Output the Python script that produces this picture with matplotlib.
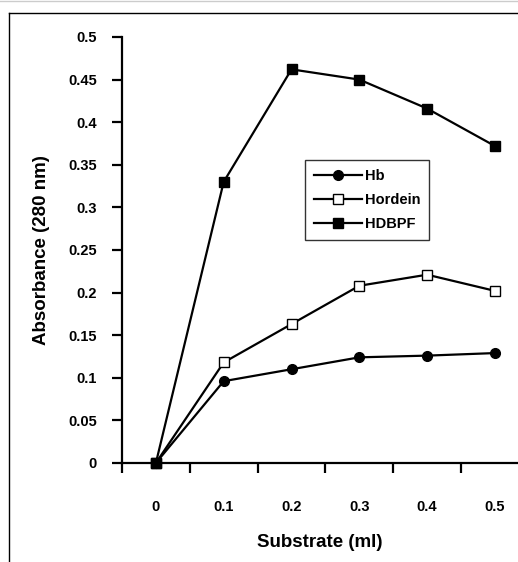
import numpy as np
import matplotlib
matplotlib.use('Agg')
import matplotlib.pyplot as plt
from matplotlib.lines import Line2D

plt.rcParams['font.family'] = ['Liberation Sans', 'DejaVu Sans']
plt.rcParams['font.weight'] = 'bold'

substrate = ['0', '0.1', '0.2', '0.3', '0.4', '0.5']
hb = [0.0, 0.096, 0.110, 0.124, 0.126, 0.129]
hordein = [0.0, 0.118, 0.163, 0.208, 0.221, 0.202]
hdbpf = [0.0, 0.330, 0.462, 0.450, 0.416, 0.372]
yticks = [0, 0.05, 0.1, 0.15, 0.2, 0.25, 0.3, 0.35, 0.4, 0.45, 0.5]

fig = plt.figure(figsize=(5.18, 5.62), dpi=100)
ax = fig.add_axes([0.2355, 0.1762, 0.7645, 0.758])

x = np.arange(len(substrate))
ax.plot(x, hb, color='black', lw=1.6, marker='o', ms=7, mfc='black', mec='black', label='Hb', clip_on=False, zorder=3)
ax.plot(x, hordein, color='black', lw=1.6, marker='s', ms=7, mfc='white', mec='black', mew=1, label='Hordein', clip_on=False, zorder=3)
ax.plot(x, hdbpf, color='black', lw=1.6, marker='s', ms=7, mfc='black', mec='black', label='HDBPF', clip_on=False, zorder=3)

ax.set_yticks(yticks)
ax.set_yticklabels(['0' if v == 0 else ('%g' % v) for v in yticks])
ax.set_xticks(x)
ax.set_xticklabels(substrate)
ax.set_xticks(np.arange(-0.5, 5.4, 1), minor=True)
ax.set_xlim(-0.5, 5.34)
ax.set_ylim(0, 0.5)
ax.tick_params(axis='x', which='major', length=0, pad=27, labelsize=10.5)
ax.tick_params(axis='x', which='minor', direction='out', length=7, width=1.6)
ax.tick_params(axis='y', direction='out', length=7, width=1.6, labelsize=10.5, pad=11)

for s in ['top', 'right']:
    ax.spines[s].set_visible(False)
for s in ['left', 'bottom']:
    ax.spines[s].set_linewidth(1.6)

ax.set_ylabel('Absorbance (280 nm)', fontsize=13.5, fontweight='bold', labelpad=13)
ax.set_xlabel('Substrate (ml)', fontsize=13.5, fontweight='bold', labelpad=14)

leg = ax.legend(loc='upper left', bbox_to_anchor=(0.589, 0.715), bbox_transform=fig.transFigure,
                frameon=True, fancybox=False, edgecolor='black', borderaxespad=0,
                handlelength=3.3, handletextpad=0.2, labelspacing=0.7,
                borderpad=0.6, prop={'size': 10.5, 'weight': 'bold'})
leg.get_frame().set_linewidth(1.0)

# outer frame lines
fig.add_artist(Line2D([9 / 518, 1], [1 - 13 / 562, 1 - 13 / 562], transform=fig.transFigure, color='black', lw=1))
fig.add_artist(Line2D([9 / 518, 9 / 518], [0, 1 - 13 / 562], transform=fig.transFigure, color='black', lw=1))
fig.add_artist(Line2D([0, 1], [0.999, 0.999], transform=fig.transFigure, color='#cccccc', lw=1))

fig.savefig('out.png', dpi=100)
